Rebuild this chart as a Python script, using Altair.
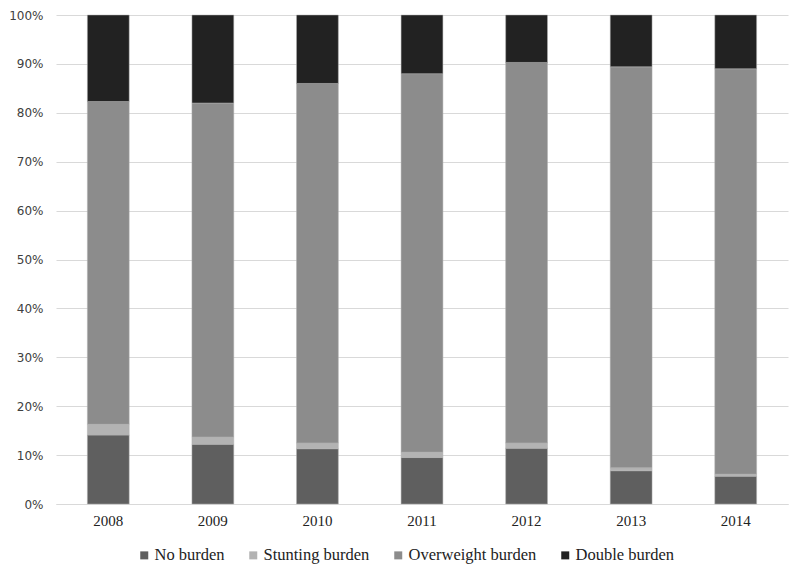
import altair as alt
import pandas as pd

years = ["2008", "2009", "2010", "2011", "2012", "2013", "2014"]
categories = ["No burden", "Stunting burden", "Overweight burden", "Double burden"]
no_burden = [14.1, 12.2, 11.3, 9.5, 11.4, 6.8, 5.7]
stunting = [2.2, 1.5, 1.2, 1.1, 1.1, 0.6, 0.4]
overweight = [66.0, 68.3, 73.5, 77.4, 77.8, 82.0, 82.9]
double = [17.7, 18.0, 14.0, 12.0, 9.7, 10.6, 11.0]
colors = ["#5f5f5f", "#b3b3b3", "#8c8c8c", "#222222"]

rows = []
for series, vals in zip(categories, [no_burden, stunting, overweight, double]):
    for y, v in zip(years, vals):
        rows.append({"year": y, "category": series, "value": v / 100.0,
                     "ord": categories.index(series)})
df = pd.DataFrame(rows)

chart = alt.Chart(df).mark_bar(stroke="#b0b0b0", strokeWidth=0.5).encode(
    x=alt.X("year:N", sort=years,
            scale=alt.Scale(paddingInner=0.6, paddingOuter=0.3),
            axis=alt.Axis(title=None, labelAngle=0, labelFont="Liberation Serif",
                          labelFontSize=15, labelColor="#222222", ticks=False,
                          domainColor="#d9d9d9", labelPadding=9, grid=False)),
    y=alt.Y("value:Q", stack="normalize",
            scale=alt.Scale(domain=[0, 1], nice=False),
            axis=alt.Axis(title=None, format=".0%", values=[i / 10 for i in range(11)],
                          labelFont="DejaVu Sans", labelFontSize=12, labelColor="#404040",
                          ticks=False, domain=False, gridColor="#d9d9d9", labelPadding=13)),
    color=alt.Color("category:N", sort=categories,
                    scale=alt.Scale(domain=categories, range=colors),
                    legend=alt.Legend(title=None, orient="none", direction="horizontal",
                                      legendX=80, legendY=532, symbolType="square",
                                      symbolSize=64, symbolStrokeWidth=0,
                                      labelFont="Liberation Serif", labelFontSize=16.5,
                                      labelColor="#222222", labelOffset=2,
                                      columnPadding=20, padding=0)),
    order=alt.Order("ord:Q", sort="ascending"),
).properties(
    width=732, height=489,
    autosize=alt.AutoSizeParams(type="none"),
    padding={"left": 48, "top": 7, "right": 4, "bottom": 63},
).configure_view(stroke=None)

chart.save("out.html", embed_options={"renderer": "svg", "actions": False})
